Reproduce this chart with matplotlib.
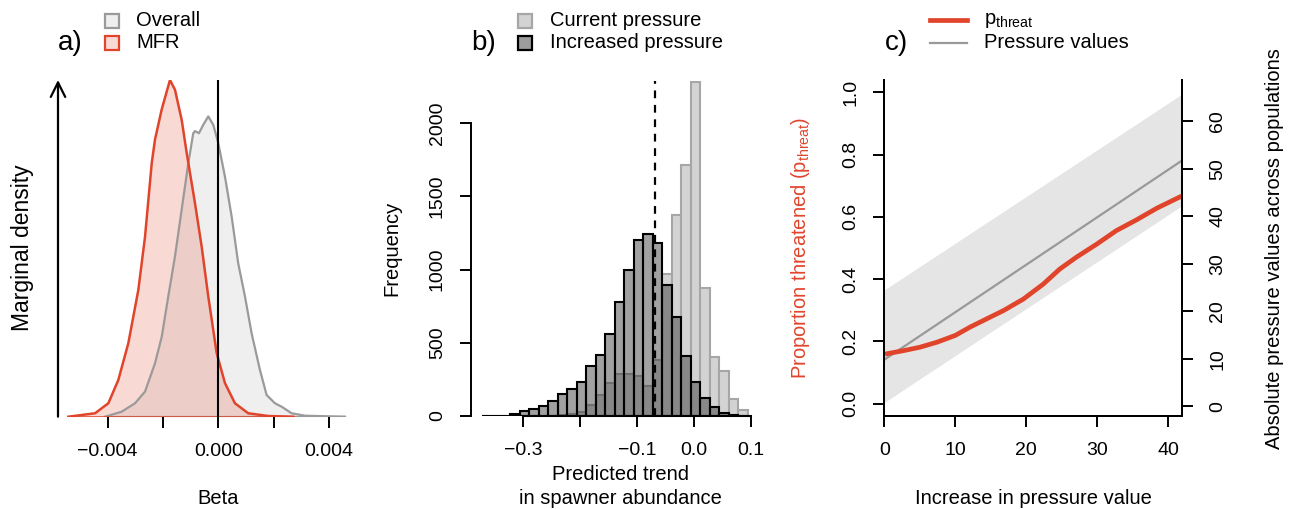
import numpy as np
import matplotlib
matplotlib.use("Agg")
import matplotlib.pyplot as plt
from matplotlib.patches import Rectangle
from matplotlib.lines import Line2D

plt.rcParams['font.family'] = ['Liberation Sans', 'DejaVu Sans']

# panel a: marginal densities of beta
mfr_beta = [-0.005415, -0.004451, -0.003971, -0.003610, -0.003249, -0.002888, -0.002646,
            -0.002404, -0.002285, -0.002043, -0.001744, -0.001563, -0.001321, -0.001141,
            -0.000841, -0.000599, -0.000361, -0.000058, 0.000242, 0.000603, 0.001083,
            0.001805, 0.002708]
mfr_dens = [0, 4.9, 19.2, 52.5, 105, 181, 257, 362, 396, 439, 481, 467, 424, 377,
            305, 243, 172, 91, 48, 19.2, 4.9, 1.0, 0]
all_beta = [-0.004090, -0.003487, -0.003007, -0.002646, -0.002285, -0.002043, -0.001805,
            -0.001563, -0.001321, -0.001083, -0.000903, -0.000841, -0.000697, -0.000542,
            -0.000361, -0.000181, 0.0, 0.000242, 0.000484, 0.000722, 0.000964, 0.001206,
            0.001505, 0.001747, 0.002047, 0.002289, 0.002650, 0.003130, 0.004574]
all_dens = [0, 7.2, 19.2, 35.8, 76.4, 114, 172, 229, 296, 362, 405, 408, 405, 417,
            429, 417, 391, 343, 286, 219, 172, 119, 67, 31, 19.2, 14.3, 4.9, 1.4, 0]

# panel b: histogram bins (width 1/60) and counts
bin_start = -0.3725
bin_width = 1 / 60
current_counts = [0, 0, 0, 0, 0, 0, 0, 0, 5, 12, 27, 73, 141, 222, 290, 290, 275, 204,
                  381, 972, 1373, 1714, 2284, 872, 404, 309, 114, 41]
increased_counts = [3, 2, 1, 16, 33, 50, 68, 100, 152, 182, 230, 340, 420, 563, 776, 999,
                    1205, 1244, 1183, 894, 676, 413, 232, 120, 59, 18, 4, 0]
threshold = -0.069

# panel c
inc_x = [0.1, 2.7, 5.0, 7.4, 10.0, 12.1, 14.4, 16.8, 19.6, 22.4, 24.7, 27.1, 29.9, 32.7,
         35.5, 38.4, 41.9]
p_threat = [0.159, 0.170, 0.181, 0.197, 0.219, 0.246, 0.272, 0.299, 0.336, 0.384, 0.432,
            0.471, 0.512, 0.556, 0.590, 0.628, 0.667]
press_x = [0, 41.9]
press_mid = [9.8, 51.7]
press_low = [0.8, 42.2]
press_high = [24.5, 65.7]

RED = '#E0452C'
W, H = 1295, 509
FS = 14.5
TFS = 14


def px_axes(fig, left, top, right, bottom):
    return fig.add_axes([left / W, 1 - bottom / H, (right - left) / W, (bottom - top) / H])


def ftext(fig, x, y, s, **kw):
    kw.setdefault('fontsize', FS)
    fig.text(x / W, 1 - y / H, s, **kw)


def r_ticks(ax):
    ax.tick_params(direction='out', length=8, width=1.4, labelsize=TFS)
    ax.tick_params(axis='x', pad=11)
    ax.tick_params(axis='y', pad=10)


def legend_box(fig, x, y, fc, ec):
    fig.patches.append(Rectangle(((x - 7) / W, 1 - (y + 7) / H), 14 / W, 14 / H,
                                 transform=fig.transFigure, fc=fc, ec=ec, lw=1.6))


fig = plt.figure(figsize=(W / 100, H / 100), dpi=100)

# ---- panel a
ax = px_axes(fig, 58, 80, 350, 416.7)
ax.fill_between(all_beta, all_dens, color='#EFEFEF', lw=0)
ax.plot(all_beta, all_dens, color='#9A9A9A', lw=1.6)
ax.plot([all_beta[0], all_beta[-1]], [0, 0], color='#9A9A9A', lw=1.6)
ax.fill_between(mfr_beta, mfr_dens, color=RED, alpha=0.2, lw=0)
ax.plot(mfr_beta, mfr_dens, color=RED, lw=1.8)
ax.plot([mfr_beta[0], mfr_beta[-1]], [0, 0], color=RED, lw=1.8)
ax.set_xlim(-0.00579, 0.00476)
ax.set_ylim(0, 481)
ax.axvline(0, color='black', lw=1.5)
ax.annotate('', xy=(-0.00579, 481), xytext=(-0.00579, 0),
            arrowprops=dict(arrowstyle='->', lw=1.6, mutation_scale=26, color='black',
                            shrinkA=0, shrinkB=0), annotation_clip=False)
for s in ax.spines.values():
    s.set_visible(False)
ax.set_yticks([])
ax.set_xticks([-0.004, -0.002, 0.0, 0.002, 0.004])
ax.set_xticklabels(['\u22120.004', '', '0.000', '', '0.004'])
r_ticks(ax)
ftext(fig, 218, 498, 'Beta', ha='center', va='center')
ftext(fig, 22, 248, 'Marginal density', ha='center', va='center', rotation=90, fontsize=16.5)
ftext(fig, 70, 43, 'a)', ha='center', va='center', fontsize=20)
legend_box(fig, 112, 21, '#EFEFEF', '#9A9A9A')
legend_box(fig, 112, 43, '#F8DAD5', RED)
ftext(fig, 136, 21, 'Overall', va='center')
ftext(fig, 136, 43, 'MFR', va='center')

# ---- panel b
bx = px_axes(fig, 471, 80.7, 758, 416)
edges = bin_start + bin_width * np.arange(len(current_counts))
bx.bar(edges, current_counts, width=bin_width, align='edge', color='#D3D3D3',
       edgecolor='#A6A6A6', lw=1.5)
bx.bar(edges, increased_counts, width=bin_width, align='edge', color=(0.16, 0.16, 0.16, 0.44),
       edgecolor='black', lw=1.5)
bx.plot([threshold, threshold], [0, 2290], color='black', lw=1.6, ls=(0, (3.5, 3)))
bx.set_xlim(-0.391, 0.112)
bx.set_ylim(0, 2290)
for s in ['top', 'right']:
    bx.spines[s].set_visible(False)
bx.spines['left'].set_bounds(0, 2000)
bx.spines['left'].set_linewidth(1.4)
bx.spines['bottom'].set_visible(False)
bx.plot([-0.3, 0.1], [0, 0], color='black', lw=1.5, clip_on=False)
bx.set_yticks([0, 500, 1000, 1500, 2000])
bx.set_yticklabels(['0', '500', '1000', '1500', '2000'], rotation=90, va='center')
bx.set_xticks([-0.3, -0.2, -0.1, 0.0, 0.1])
bx.set_xticklabels(['\u22120.3', '', '\u22120.1', '0.0', '0.1'])
r_ticks(bx)
ftext(fig, 620, 475, 'Predicted trend', ha='center', va='center')
ftext(fig, 620, 498, 'in spawner abundance', ha='center', va='center')
ftext(fig, 392, 248, 'Frequency', ha='center', va='center', rotation=90)
ftext(fig, 484, 43, 'b)', ha='center', va='center', fontsize=20)
legend_box(fig, 525, 21, '#D3D3D3', '#A6A6A6')
legend_box(fig, 525, 43, '#9C9C9C', 'black')
ftext(fig, 550, 21, 'Current pressure', va='center')
ftext(fig, 550, 43, 'Increased pressure', va='center')

# ---- panel c
cx = px_axes(fig, 884.3, 80, 1181.7, 416)
cx2 = cx.twinx()
cx2.fill_between(press_x, press_low, press_high, color='#E5E5E5', lw=0)
cx2.plot(press_x, press_mid, color='#999999', lw=1.6)
cx2.set_ylim(-2.05, 68.7)
cx.set_zorder(cx2.get_zorder() + 1)
cx.patch.set_visible(False)
cx.plot(inc_x, p_threat, color=RED, lw=3.4, solid_capstyle='butt')
cx.set_xlim(0, 41.9)
cx.set_ylim(-0.04, 1.04)
for a in [cx, cx2]:
    a.spines['top'].set_visible(False)
    for s in ['left', 'right', 'bottom']:
        a.spines[s].set_linewidth(1.4)
cx.set_xticks([0, 10, 20, 30, 40])
cx.set_yticks([0, 0.2, 0.4, 0.6, 0.8, 1.0])
cx.set_yticklabels(['0.0', '0.2', '0.4', '0.6', '0.8', '1.0'], rotation=90, va='center')
cx2.set_yticks([0, 10, 20, 30, 40, 50, 60])
cx2.set_yticklabels(['0', '10', '20', '30', '40', '50', '60'], rotation=90, va='center')
r_ticks(cx)
r_ticks(cx2)
cx2.tick_params(axis='y', pad=12)
ftext(fig, 1033, 498, 'Increase in pressure value', ha='center', va='center')
ftext(fig, 800, 248, 'Proportion threatened (p$_{\\mathregular{threat}}$)', ha='center',
      va='center', rotation=90, color=RED)
ftext(fig, 1275, 249, 'Absolute pressure values across populations', ha='center',
      va='center', rotation=90)
ftext(fig, 896, 43, 'c)', ha='center', va='center', fontsize=20)
fig.lines.append(Line2D([930 / W, 967 / W], [1 - 20 / H, 1 - 20 / H], transform=fig.transFigure,
                        color=RED, lw=3.4))
fig.lines.append(Line2D([930 / W, 967 / W], [1 - 43 / H, 1 - 43 / H], transform=fig.transFigure,
                        color='#999999', lw=1.6))
ftext(fig, 984, 21, 'p$_{\\mathregular{threat}}$', va='center')
ftext(fig, 984, 43, 'Pressure values', va='center')

fig.savefig('out.png', dpi=100)
